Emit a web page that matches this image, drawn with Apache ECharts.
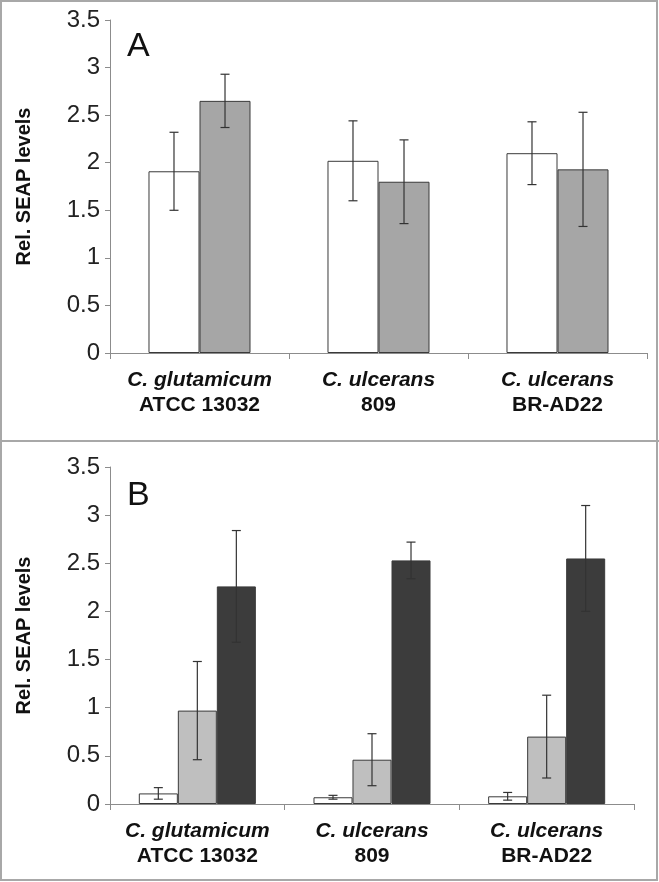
<!DOCTYPE html>
<html>
<head>
<meta charset="utf-8">
<script src="https://cdn.jsdelivr.net/npm/echarts@6/dist/echarts.min.js"></script>
<style>
html,body{margin:0;padding:0;background:#fff;}
#chart{width:659px;height:882px;}
</style>
</head>
<body>
<div id="chart"></div>
<script>
// ---- data ----
const speciesNames = ['C. glutamicum', 'C. ulcerans', 'C. ulcerans'];
const strainNames = ['ATCC 13032', '809', 'BR-AD22'];
const yTicks = [0, 0.5, 1, 1.5, 2, 2.5, 3, 3.5];

const aWhite = [1.91, 2.02, 2.10];
const aWhiteErr = [0.41, 0.42, 0.33];
const aGray = [2.65, 1.80, 1.93];
const aGrayErr = [0.28, 0.44, 0.60];

const bWhite = [0.11, 0.07, 0.08];
const bWhiteErr = [0.06, 0.02, 0.04];
const bLight = [0.97, 0.46, 0.70];
const bLightErr = [0.51, 0.27, 0.43];
const bDark = [2.26, 2.53, 2.55];
const bDarkErr = [0.58, 0.19, 0.55];

// ---- chart ----
const chart = echarts.init(document.getElementById('chart'));
const FONT = '"Liberation Sans", Arial, sans-serif';
const axisGray = '#8c8c8c';
const borderDark = '#3a3a3a';
const errColor = '#333333';

const categories = speciesNames.map((s, i) => '{i|' + s + '}\n{b|' + strainNames[i] + '}');

function xAxisCfg(gridIndex) {
  return {
    type: 'category', gridIndex: gridIndex, data: categories,
    axisLine: { lineStyle: { color: axisGray, width: 1 } },
    axisTick: { show: true, length: 6, lineStyle: { color: axisGray } },
    axisLabel: {
      margin: 15, interval: 0,
      rich: {
        i: { fontFamily: FONT, fontSize: 21, fontWeight: 'bold', fontStyle: 'italic', color: '#111', lineHeight: 25 },
        b: { fontFamily: FONT, fontSize: 21, fontWeight: 'bold', color: '#111', lineHeight: 25 }
      }
    }
  };
}
function yAxisCfg(gridIndex) {
  return {
    type: 'value', gridIndex: gridIndex, min: yTicks[0], max: yTicks[yTicks.length - 1], interval: 0.5,
    name: 'Rel. SEAP levels', nameLocation: 'middle', nameGap: 76, nameRotate: 90,
    nameTextStyle: { fontFamily: FONT, fontSize: 20, fontWeight: 'bold', color: '#111' },
    splitLine: { show: false },
    axisLine: { show: true, lineStyle: { color: axisGray, width: 1 } },
    axisTick: { show: true, inside: false, length: 5, lineStyle: { color: axisGray } },
    axisLabel: { margin: 10, fontFamily: FONT, fontSize: 24, color: '#222' }
  };
}

function barSeries(name, data, color, xi, yi, catGap) {
  return {
    name: name, type: 'bar', xAxisIndex: xi, yAxisIndex: yi, data: data,
    barGap: '0%', barCategoryGap: catGap,
    itemStyle: { color: color, borderColor: borderDark, borderWidth: 1 },
    silent: true, z: 2
  };
}

function errSeries(vals, errs, idx, count, catGapFrac, xi, yi) {
  const data = vals.map((v, i) => [i, v + errs[i], v - errs[i]]);
  return {
    type: 'custom', xAxisIndex: xi, yAxisIndex: yi, data: data, z: 5, silent: true,
    renderItem: function (params, api) {
      const x = api.value(0);
      const hiPt = api.coord([x, api.value(1)]);
      const loPt = api.coord([x, api.value(2)]);
      const band = api.size([1, 0])[0];
      const w = band * (1 - catGapFrac) / count;
      const cx = hiPt[0] + (idx - (count - 1) / 2) * w;
      const cap = 4.5;
      const style = { stroke: errColor, lineWidth: 1.2 };
      return {
        type: 'group',
        children: [
          { type: 'line', shape: { x1: cx, y1: hiPt[1], x2: cx, y2: loPt[1] }, style: style },
          { type: 'line', shape: { x1: cx - cap, y1: hiPt[1], x2: cx + cap, y2: hiPt[1] }, style: style },
          { type: 'line', shape: { x1: cx - cap, y1: loPt[1], x2: cx + cap, y2: loPt[1] }, style: style }
        ]
      };
    }
  };
}

const option = {
  animation: false,
  backgroundColor: '#fff',
  grid: [
    { left: 110, right: 12, top: 20, height: 333 },
    { left: 110, right: 25, top: 467, height: 337 }
  ],
  xAxis: [xAxisCfg(0), xAxisCfg(1)],
  yAxis: [yAxisCfg(0), yAxisCfg(1)],
  series: [
    barSeries('A1', aWhite, '#ffffff', 0, 0, '43%'),
    barSeries('A2', aGray, '#a6a6a6', 0, 0, '43%'),
    errSeries(aWhite, aWhiteErr, 0, 2, 0.43, 0, 0),
    errSeries(aGray, aGrayErr, 1, 2, 0.43, 0, 0),
    barSeries('B1', bWhite, '#ffffff', 1, 1, '33%'),
    barSeries('B2', bLight, '#bfbfbf', 1, 1, '33%'),
    barSeries('B3', bDark, '#3c3c3c', 1, 1, '33%'),
    errSeries(bWhite, bWhiteErr, 0, 3, 0.33, 1, 1),
    errSeries(bLight, bLightErr, 1, 3, 0.33, 1, 1),
    errSeries(bDark, bDarkErr, 2, 3, 0.33, 1, 1)
  ],
  graphic: [
    { type: 'rect', shape: { x: 1, y: 1, width: 656, height: 879 }, style: { fill: 'none', stroke: '#a8a8a8', lineWidth: 2 }, silent: true },
    { type: 'line', shape: { x1: 0, y1: 441, x2: 659, y2: 441 }, style: { stroke: '#a8a8a8', lineWidth: 2 }, silent: true },
    { type: 'text', left: 127, top: 30, style: { text: 'A', fontFamily: FONT, fontSize: 34, fill: '#111' }, silent: true },
    { type: 'text', left: 127, top: 479, style: { text: 'B', fontFamily: FONT, fontSize: 34, fill: '#111' }, silent: true }
  ]
};
chart.setOption(option);
</script>
</body>
</html>
